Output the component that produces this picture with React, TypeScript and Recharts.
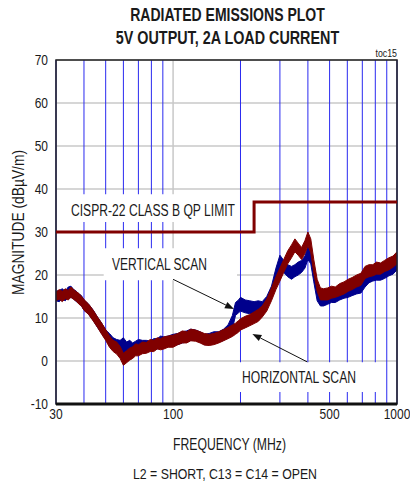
import React from 'react';
import {
  ComposedChart,
  Area,
  Line,
  XAxis,
  YAxis,
  CartesianGrid,
  ReferenceArea,
  ReferenceLine,
} from 'recharts';

const FONT = "'Liberation Sans', Arial, sans-serif";
const SQUEEZE = 0.8;

// frequency points (MHz)
const freqMHz = [
  30, 31, 32, 33, 34, 35, 36, 37, 38, 39, 40, 42, 44, 46, 48, 50, 52, 54, 56, 58,
  60, 62, 64, 66, 68, 70, 73, 76, 79, 82, 85, 88, 91, 95, 100, 105, 110, 115, 120, 126,
  132, 138, 145, 152, 160, 168, 176, 184, 190, 196, 200, 210, 220, 230, 240, 250, 262, 275, 288, 300,
  312, 325, 338, 350, 362, 375, 388, 400, 412, 425, 440, 455, 470, 490, 510, 530, 555, 580, 605, 630,
  660, 690, 720, 750, 780, 810, 845, 880, 920, 960, 1000,
];

// vertical scan envelope (dBuV/m)
const vertLo = [
  14.0, 13.8, 14.4, 14.0, 14.8, 14.8, 14.4, 13.8, 13.4, 12.8, 11.8, 10.8, 9.4, 7.8, 6.4, 5.0, 3.8, 2.8, 2.2, 1.8,
  1.2, 1.4, 1.8, 1.8, 2.0, 2.2, 2.4, 2.2, 2.4, 2.8, 2.8, 3.2, 3.2, 3.4, 3.8, 3.8, 4.2, 4.4, 4.8, 4.8,
  4.4, 3.8, 3.8, 4.2, 4.4, 4.8, 5.6, 7.4, 10.6, 11.2, 11.6, 11.2, 11.0, 11.2, 11.0, 11.2, 12.2, 14.6, 18.4, 21.6,
  20.6, 19.6, 19.0, 19.6, 20.0, 20.6, 21.6, 23.6, 22.6, 18.4, 14.0, 12.8, 12.8, 13.2, 13.6, 13.6, 14.2, 14.6, 14.8, 15.2,
  15.6, 15.8, 17.2, 18.2, 18.6, 18.8, 18.8, 19.2, 19.8, 20.2, 21.2,
];
const vertHi = [
  16.2, 16.4, 16.8, 16.2, 17.2, 17.4, 16.6, 16.2, 15.6, 15.2, 14.2, 13.2, 11.8, 10.2, 8.8, 7.2, 6.4, 5.4, 5.0, 4.8,
  5.4, 4.4, 4.8, 4.2, 4.6, 5.0, 4.8, 4.8, 4.6, 5.2, 5.2, 5.8, 5.6, 5.8, 6.2, 6.4, 6.8, 7.0, 7.4, 7.2,
  6.8, 6.2, 6.4, 6.8, 6.8, 7.4, 8.4, 10.6, 13.6, 14.2, 14.8, 14.2, 14.0, 13.8, 14.0, 13.8, 15.0, 17.4, 21.6, 24.6,
  23.4, 22.4, 22.0, 22.4, 23.0, 23.4, 24.4, 26.6, 25.4, 21.6, 17.0, 15.2, 15.2, 15.8, 16.2, 16.4, 16.8, 17.4, 17.2, 17.8,
  18.4, 18.4, 19.8, 20.8, 21.4, 21.2, 21.4, 21.8, 22.4, 22.8, 23.8,
];

// horizontal scan envelope (dBuV/m)
const horizLo = [
  14.0, 14.4, 13.8, 14.5, 14.2, 14.8, 14.3, 13.9, 13.2, 12.8, 11.8, 10.8, 9.3, 7.8, 6.2, 4.8, 3.2, 2.2, 1.6, 0.6,
  -1.0, -0.4, 0.2, 0.6, 1.2, 1.2, 1.7, 1.8, 2.2, 2.2, 2.8, 2.6, 2.8, 3.2, 3.2, 3.8, 4.2, 4.2, 4.7, 4.6,
  4.2, 3.7, 3.6, 3.8, 4.2, 4.7, 5.2, 5.7, 6.2, 6.7, 7.2, 7.7, 8.2, 8.7, 9.2, 10.2, 11.6, 14.0, 16.6, 18.6,
  20.6, 22.6, 24.0, 25.4, 24.6, 23.6, 25.0, 26.8, 25.2, 20.4, 16.2, 14.2, 14.2, 14.2, 14.6, 14.8, 15.2, 15.6, 16.2, 16.6,
  17.2, 17.6, 19.2, 19.6, 19.8, 20.2, 20.2, 20.8, 21.2, 21.8, 22.6,
];
const horizHi = [
  16.0, 16.6, 16.2, 16.8, 16.4, 17.2, 16.6, 16.1, 15.7, 15.0, 14.3, 13.2, 11.8, 10.2, 8.8, 7.3, 5.8, 4.8, 4.4, 3.4,
  1.8, 2.4, 3.0, 3.3, 4.0, 3.8, 4.4, 4.3, 5.0, 4.8, 5.4, 5.2, 5.6, 5.8, 6.0, 6.4, 7.0, 6.8, 7.4, 7.2,
  6.8, 6.4, 6.2, 6.4, 6.8, 7.3, 7.8, 8.4, 8.8, 9.4, 9.8, 10.4, 10.8, 11.4, 12.0, 12.8, 14.4, 17.0, 19.6, 21.6,
  23.6, 25.6, 27.0, 28.4, 27.4, 26.4, 28.0, 30.0, 28.4, 23.6, 19.0, 17.0, 16.8, 17.0, 17.4, 17.2, 18.0, 18.4, 19.0, 19.4,
  20.0, 20.4, 22.0, 22.4, 22.4, 23.0, 22.8, 23.4, 24.0, 24.4, 25.4,
];

// CISPR-22 class B quasi-peak limit
const limitFreq = [30, 230, 230, 1000];
const limitLevel = [30, 30, 37, 37];

const xTicks = [30, 100, 500, 1000];
const yTicks = [-10, 0, 10, 20, 30, 40, 50, 60, 70];
const yMinorTicks = [
  -8, -6, -4, -2, 2, 4, 6, 8, 12, 14, 16, 18, 22, 24, 26, 28, 32, 34, 36, 38,
  42, 44, 46, 48, 52, 54, 56, 58, 62, 64, 66, 68,
];
const gridBlueMHz = [40, 50, 60, 70, 80, 90, 200, 300, 400, 500, 600, 700, 800, 900];
const gridGrayMHz = [100];

const data = freqMHz.map((f, i) => ({
  f,
  v: [vertLo[i], vertHi[i]],
  h: [horizLo[i], horizHi[i]],
}));
const limitData = limitFreq.map((f, i) => ({ f, level: limitLevel[i] }));

const RED = '#800000';
const BLUE = '#00008c';
const INK = '#1a1a1a';

const Arrow = (props: any) => {
  const { x1, y1, x2, y2 } = props;
  const ang = Math.atan2(y2 - y1, x2 - x1);
  const len = 9;
  const w = 3.5;
  const bx = x2 - len * Math.cos(ang);
  const by = y2 - len * Math.sin(ang);
  const px = -Math.sin(ang) * w;
  const py = Math.cos(ang) * w;
  return (
    <g>
      <line x1={x1} y1={y1} x2={bx} y2={by} stroke="#111" strokeWidth={1} />
      <polygon points={`${x2},${y2} ${bx + px},${by + py} ${bx - px},${by - py}`} fill="#111" />
    </g>
  );
};

// narrow-looking tick labels (no Arial Narrow available, so squeeze Liberation Sans)
const XTick = ({ x, y, payload }: any) => (
  <text
    transform={`translate(${x},${y}) scale(${SQUEEZE},1)`}
    textAnchor="middle"
    dy="0.71em"
    fontSize={15}
    fontFamily={FONT}
    fill={INK}
  >
    {payload.value}
  </text>
);

const YTick = ({ x, y, payload }: any) => (
  <text
    transform={`translate(${x},${y}) scale(${SQUEEZE},1)`}
    textAnchor="end"
    dy="0.355em"
    fontSize={15}
    fontFamily={FONT}
    fill={INK}
  >
    {payload.value}
  </text>
);

const noTick = () => <g />;

export default function App() {
  return (
    <div style={{ position: 'absolute', left: 0, top: 0, width: 410, height: 484, background: '#fff' }}>
      <ComposedChart
        width={410}
        height={484}
        data={data}
        margin={{ top: 60, right: 13, bottom: 0, left: 0 }}
      >
        <CartesianGrid vertical={false} stroke="#c8c8c8" strokeWidth={1.5} />
        <CartesianGrid xAxisId="gray" horizontal={false} stroke="#c8c8c8" strokeWidth={1.5} />
        <CartesianGrid xAxisId="blue" horizontal={false} stroke="#2a2af0" strokeWidth={1} />
        <XAxis
          dataKey="f"
          type="number"
          scale="log"
          domain={[30, 1000]}
          ticks={xTicks}
          interval={0}
          allowDataOverflow
          height={80}
          tickLine={false}
          tickSize={0}
          tickMargin={4}
          axisLine={{ stroke: '#111', strokeWidth: 3 }}
          tick={XTick}
        />
        <XAxis xAxisId="blue" dataKey="f" type="number" scale="log" domain={[30, 1000]} ticks={gridBlueMHz} interval={0} hide allowDataOverflow />
        <XAxis xAxisId="gray" dataKey="f" type="number" scale="log" domain={[30, 1000]} ticks={gridGrayMHz} interval={0} hide allowDataOverflow />
        <YAxis
          type="number"
          domain={[-10, 70]}
          ticks={yTicks}
          interval={0}
          width={56}
          tickLine={false}
          tickSize={0}
          tickMargin={8}
          axisLine={false}
          tick={YTick}
        />
        <YAxis
          yAxisId="minor"
          type="number"
          domain={[-10, 70]}
          ticks={yMinorTicks}
          interval={0}
          mirror
          tickSize={4}
          tickLine={{ stroke: '#111' }}
          axisLine={false}
          tick={noTick}
        />

        {/* white backing behind the annotations */}
        <ReferenceArea x1={31.5} x2={196} y1={32.3} y2={38.8} fill="#fff" fillOpacity={1} stroke="none" />
        <ReferenceArea x1={49} x2={193} y1={18.8} y2={26.2} fill="#fff" fillOpacity={1} stroke="none" />
        <ReferenceArea x1={193} x2={850} y1={-7.2} y2={-0.3} fill="#fff" fillOpacity={1} stroke="none" />

        <Area dataKey="v" type="linear" stroke={BLUE} strokeWidth={1} fill={BLUE} fillOpacity={1} isAnimationActive={false} />
        <Area dataKey="h" type="linear" stroke={RED} strokeWidth={1} fill={RED} fillOpacity={1} isAnimationActive={false} />
        <Line data={limitData} dataKey="level" type="linear" stroke={RED} strokeWidth={3} dot={false} isAnimationActive={false} />

        <ReferenceArea x1={30} x2={1000} y1={-10} y2={70} fill="none" stroke="#222" strokeWidth={1.5} />
        <ReferenceLine segment={[{ x: 100, y: 19 }, { x: 187, y: 12.1 }]} shape={Arrow} />
        <ReferenceLine segment={[{ x: 397, y: -0.2 }, { x: 226, y: 6.3 }]} shape={Arrow} />
      </ComposedChart>

      <svg width={410} height={484} style={{ position: 'absolute', left: 0, top: 0, pointerEvents: 'none' }}>
        <g fontFamily={FONT} fill={INK}>
          <text transform="translate(227.5,21) scale(0.78,1)" fontSize={18} fontWeight="bold" textAnchor="middle">RADIATED EMISSIONS PLOT</text>
          <text transform="translate(227.5,44) scale(0.797,1)" fontSize={18} fontWeight="bold" textAnchor="middle">5V OUTPUT, 2A LOAD CURRENT</text>
          <text transform="translate(397,57) scale(0.8,1)" fontSize={11} textAnchor="end">toc15</text>
          <text x={71} y={216} fontSize={16} textLength={164} lengthAdjust="spacingAndGlyphs">CISPR-22 CLASS B QP LIMIT</text>
          <text x={112} y={270} fontSize={16} textLength={95} lengthAdjust="spacingAndGlyphs">VERTICAL SCAN</text>
          <text x={242} y={383} fontSize={16} textLength={114} lengthAdjust="spacingAndGlyphs">HORIZONTAL SCAN</text>
          <text x={173} y={450} fontSize={16} textLength={113} lengthAdjust="spacingAndGlyphs">FREQUENCY (MHz)</text>
          <text x={133} y={479} fontSize={15} textLength={184} lengthAdjust="spacingAndGlyphs">L2 = SHORT, C13 = C14 = OPEN</text>
          <text x={0} y={0} fontSize={16} textLength={145} lengthAdjust="spacingAndGlyphs" transform="translate(24,295) rotate(-90)">MAGNITUDE (dBµV/m)</text>
        </g>
      </svg>
    </div>
  );
}
